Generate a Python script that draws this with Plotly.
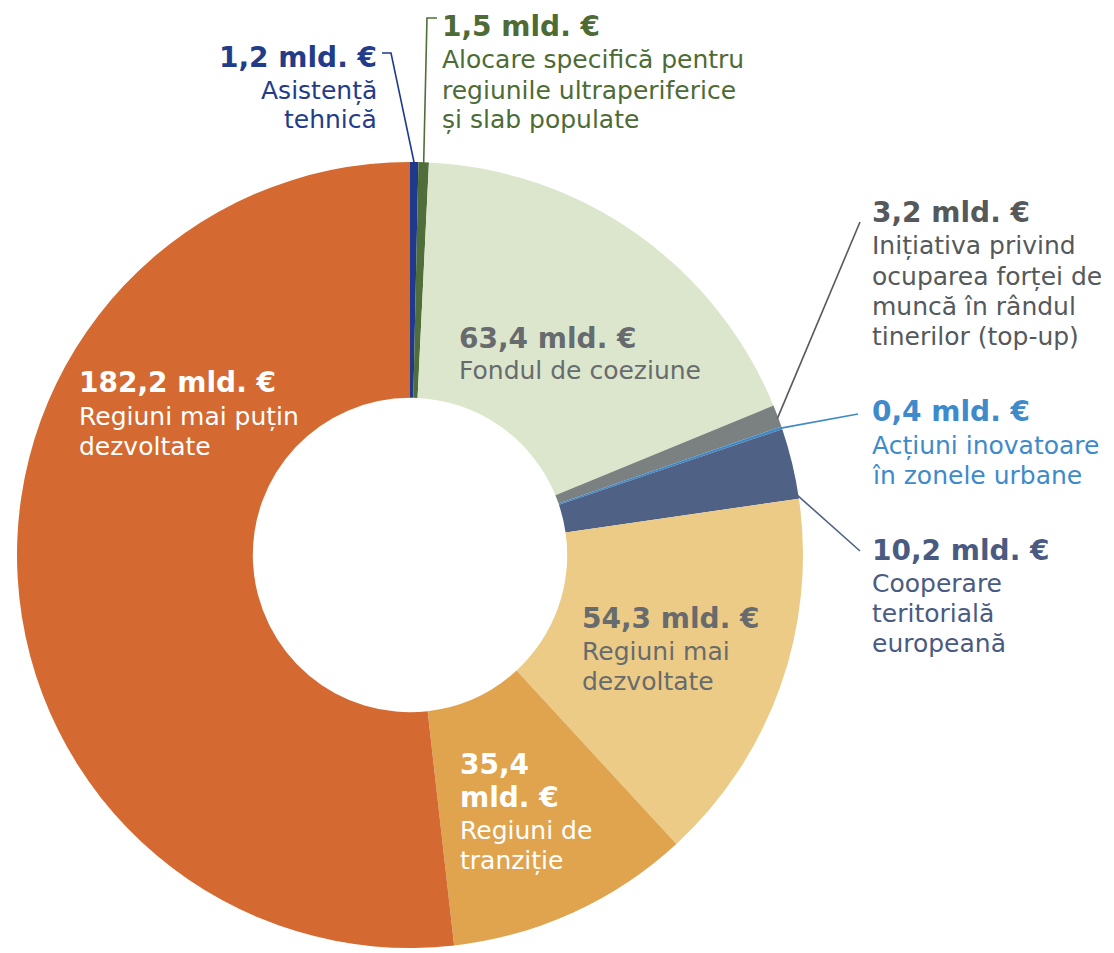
import math
import plotly.graph_objects as go

# ---------------- data ----------------
categories = [
    "Asistență tehnică",
    "Alocare specifică pentru regiunile ultraperiferice și slab populate",
    "Fondul de coeziune",
    "Inițiativa privind ocuparea forței de muncă în rândul tinerilor (top-up)",
    "Acțiuni inovatoare în zonele urbane",
    "Cooperare teritorială europeană",
    "Regiuni mai dezvoltate",
    "Regiuni de tranziție",
    "Regiuni mai puțin dezvoltate",
]
values = [1.2, 1.5, 63.4, 3.2, 0.4, 10.2, 54.3, 35.4, 182.2]
value_labels = ["1,2 mld. €", "1,5 mld. €", "63,4 mld. €", "3,2 mld. €", "0,4 mld. €",
                "10,2 mld. €", "54,3 mld. €", "35,4<br>mld. €", "182,2 mld. €"]
desc_lines = [
    ["Asistență", "tehnică"],
    ["Alocare specifică pentru", "regiunile ultraperiferice", "și slab populate"],
    ["Fondul de coeziune"],
    ["Inițiativa privind", "ocuparea forței de", "muncă în rândul", "tinerilor (top-up)"],
    ["Acțiuni inovatoare", "în zonele urbane"],
    ["Cooperare", "teritorială", "europeană"],
    ["Regiuni mai", "dezvoltate"],
    ["Regiuni de", "tranziție"],
    ["Regiuni mai puțin", "dezvoltate"],
]

# ---------------- styles ----------------
slice_colors = ["#1f3a8c", "#4f6e3a", "#dce6cd", "#7b8080", "#3f8ac6",
                "#4f6185", "#ebcb85", "#e0a44f", "#d46a31"]
text_colors = ["#233c8a", "#4e6b35", "#676b6e", "#55595b", "#3e8acb",
               "#4a5b82", "#676b6e", "#ffffff", "#ffffff"]
# label anchor (px): x, y of first line, xanchor
label_pos = [
    (379, 57, "right"),
    (440, 27, "left"),
    (457, 338, "left"),
    (870, 213, "left"),
    (870, 412, "left"),
    (870, 550, "left"),
    (580, 618, "left"),
    (458, 764, "left"),
    (77, 383, "left"),
]

W, H = 1114, 953
CX, CY, R = 410, 555, 393
FONT = "DejaVu Sans"
VAL_SIZE = 28
TXT_SIZE = 25
VAL_GAP = 33
TXT_GAP = 30


def px(x):
    return x / W


def py(y):
    return 1 - y / H


fig = go.Figure(go.Pie(
    labels=categories,
    values=values,
    sort=False,
    direction="clockwise",
    rotation=0,
    hole=0.40,
    textinfo="none",
    marker=dict(colors=slice_colors, line=dict(width=0)),
    domain=dict(x=[px(CX - R), px(CX + R)], y=[py(CY + R), py(CY - R)]),
    showlegend=False,
    hoverinfo="label+value",
))

annotations = []
for i, (x, y, xa) in enumerate(label_pos):
    vlines = value_labels[i].split("<br>")
    lines = [(t, True) for t in vlines] + [(t, False) for t in desc_lines[i]]
    yy = y
    for t, bold in lines:
        annotations.append(dict(
            x=px(x), y=py(yy), xref="paper", yref="paper",
            xanchor=xa, yanchor="middle", showarrow=False,
            text=f"<b>{t}</b>" if bold else t,
            font=dict(family=FONT, size=VAL_SIZE if bold else TXT_SIZE, color=text_colors[i]),
        ))
        yy += VAL_GAP if bold else TXT_GAP

# rim points computed from the data angles
total = sum(values)
cum = []
c = 0
for v in values:
    cum.append((c, c + v))
    c += v


def rim(i, frac=0.5, r=R):
    a0, a1 = cum[i]
    ang = (a0 + (a1 - a0) * frac) / total * 2 * math.pi
    return CX + r * math.sin(ang), CY - r * math.cos(ang)


def path(points):
    return "M " + " L ".join(f"{px(x):.5f},{py(y):.5f}" for x, y in points)


shapes = []
leaders = [
    (0, [(382, 53), (391, 53)], 0.5, slice_colors[0]),
    (1, [(437, 18), (427, 18)], 0.5, slice_colors[1]),
    (3, [(860, 222)], 0.6, "#555a5a"),
    (4, [(858, 414)], 0.5, slice_colors[4]),
    (5, [(860, 551)], 0.95, slice_colors[5]),
]
for i, pts, frac, col in leaders:
    shapes.append(dict(type="path", xref="paper", yref="paper",
                       path=path(pts + [rim(i, frac, R - 1)]),
                       line=dict(color=col, width=1.6)))

fig.update_layout(
    width=W, height=H,
    margin=dict(l=0, r=0, t=0, b=0),
    paper_bgcolor="white", plot_bgcolor="white",
    annotations=annotations,
    shapes=shapes,
)

fig.write_html("out.html")
